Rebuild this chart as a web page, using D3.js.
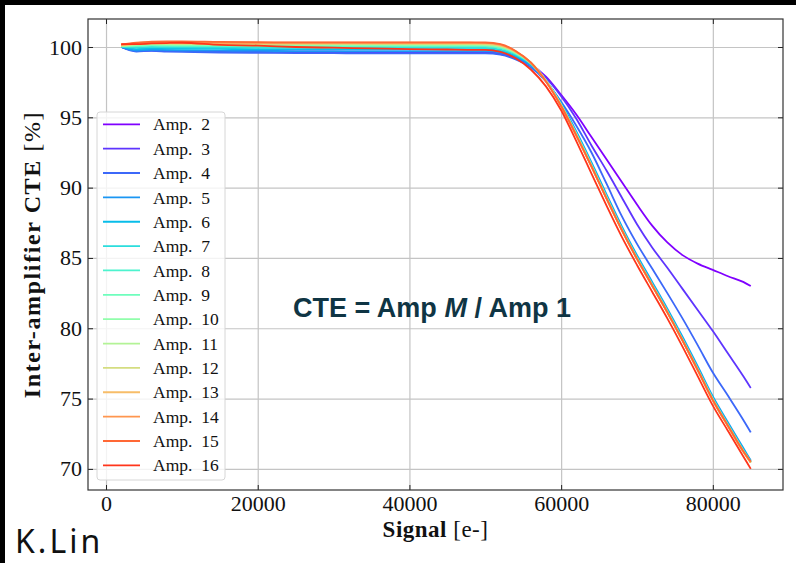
<!DOCTYPE html>
<html>
<head>
<meta charset="utf-8">
<script src="https://cdn.jsdelivr.net/npm/d3@7"></script>
<style>
  body { margin: 0; background: #fff; }
  svg { display: block; }
  .tick text { font-family: "Liberation Serif", serif; font-size: 22px; fill: #111; }
</style>
</head>
<body>
<svg id="chart" width="796" height="563"></svg>
<script>
// signal points (e-) shared by every amplifier
var signal = [2000, 4000, 6000, 8000, 10000, 15000, 20000, 25000, 30000, 35000, 40000, 45000, 48000, 50000,
  52000, 54000, 56000, 58000, 60000, 62000, 64000, 66000, 68000, 70000, 72000, 74000, 76000, 78000, 80000, 82000, 84000, 85000]

var ampNames = ["Amp. 2", "Amp. 3", "Amp. 4", "Amp. 5", "Amp. 6", "Amp. 7", "Amp. 8", "Amp. 9",
  "Amp. 10", "Amp. 11", "Amp. 12", "Amp. 13", "Amp. 14", "Amp. 15", "Amp. 16"]

// rainbow colours, one per amp
var ampColors = ["#8000ff", "#5e35fe", "#3c68f9", "#1a96f3", "#08bde9", "#2bdddd", "#4df3ce", "#6efebd",
  "#91feab", "#b3f396", "#d4dd80", "#f7bd68", "#ff964f", "#ff6835", "#ff351b"]

// CTE values [%]
var amp2 = [100.0, 99.75, 99.78, 99.75, 99.72, 99.7, 99.68, 99.67, 99.66, 99.65, 99.65, 99.65, 99.65, 99.64, 99.55, 99.25, 98.75, 97.9, 96.6, 95.2, 93.6, 92.0, 90.4, 88.8, 87.3, 86.1, 85.2, 84.6, 84.15, 83.7, 83.3, 83.0]
var amp3 = [100.0, 99.72, 99.75, 99.72, 99.7, 99.66, 99.63, 99.62, 99.61, 99.6, 99.6, 99.6, 99.6, 99.6, 99.5, 99.2, 98.7, 97.8, 96.5, 94.9, 93.0, 91.2, 89.3, 87.4, 85.75, 84.3, 82.8, 81.3, 79.8, 78.2, 76.6, 75.75]
var amp4 = [100.0, 99.68, 99.72, 99.68, 99.65, 99.6, 99.58, 99.57, 99.56, 99.55, 99.55, 99.55, 99.55, 99.55, 99.45, 99.12, 98.55, 97.55, 96.1, 94.4, 92.5, 90.26, 87.97, 86.0, 84.25, 82.5, 80.7, 78.8, 76.85, 75.2, 73.5, 72.6]
var amp5 = [100.0, 99.75, 99.8, 99.78, 99.76, 99.74, 99.72, 99.71, 99.7, 99.7, 99.7, 99.7, 99.7, 99.7, 99.6, 99.3, 98.7, 97.6, 96.0, 94.0, 91.8, 89.5, 87.25, 85.2, 83.3, 81.4, 79.4, 77.3, 75.15, 73.3, 71.5, 70.6]
var amp6 = [100.02, 99.85, 99.9, 99.88, 99.87, 99.86, 99.85, 99.85, 99.85, 99.85, 99.85, 99.85, 99.85, 99.84, 99.72, 99.38, 98.75, 97.6, 95.95, 93.9, 91.7, 89.4, 87.15, 85.1, 83.2, 81.3, 79.3, 77.2, 75.05, 73.2, 71.4, 70.55]
var amp7 = [100.03, 99.95, 100.0, 99.98, 99.97, 99.96, 99.95, 99.95, 99.95, 99.95, 99.95, 99.95, 99.95, 99.94, 99.82, 99.45, 98.8, 97.6, 95.9, 93.85, 91.65, 89.35, 87.1, 85.05, 83.15, 81.25, 79.25, 77.15, 75.0, 73.15, 71.35, 70.5]
var amp8 = [100.05, 100.05, 100.1, 100.08, 100.07, 100.06, 100.05, 100.05, 100.05, 100.05, 100.05, 100.05, 100.05, 100.04, 99.92, 99.52, 98.85, 97.62, 95.9, 93.82, 91.6, 89.3, 87.05, 85.0, 83.1, 81.2, 79.2, 77.1, 74.97, 73.12, 71.32, 70.48]
var amp9 = [100.05, 100.1, 100.15, 100.13, 100.12, 100.11, 100.1, 100.1, 100.1, 100.1, 100.1, 100.1, 100.1, 100.09, 99.97, 99.56, 98.86, 97.62, 95.88, 93.8, 91.58, 89.28, 87.03, 84.98, 83.08, 81.18, 79.18, 77.08, 74.95, 73.1, 71.3, 70.47]
var amp10 = [100.06, 100.14, 100.19, 100.18, 100.17, 100.16, 100.15, 100.15, 100.15, 100.15, 100.15, 100.15, 100.15, 100.14, 100.02, 99.6, 98.88, 97.62, 95.87, 93.78, 91.56, 89.26, 87.02, 84.97, 83.07, 81.17, 79.17, 77.07, 74.93, 73.08, 71.28, 70.46]
var amp11 = [100.08, 100.18, 100.23, 100.22, 100.21, 100.2, 100.2, 100.2, 100.2, 100.2, 100.2, 100.2, 100.2, 100.19, 100.06, 99.63, 98.88, 97.6, 95.84, 93.75, 91.53, 89.23, 87.0, 84.95, 83.05, 81.15, 79.15, 77.05, 74.9, 73.06, 71.26, 70.45]
var amp12 = [100.1, 100.2, 100.25, 100.24, 100.23, 100.22, 100.22, 100.22, 100.22, 100.22, 100.22, 100.22, 100.22, 100.21, 100.08, 99.65, 98.88, 97.58, 95.82, 93.73, 91.51, 89.21, 86.98, 84.93, 83.03, 81.13, 79.13, 77.03, 74.88, 73.04, 71.24, 70.45]
var amp13 = [100.12, 100.24, 100.3, 100.3, 100.29, 100.27, 100.26, 100.26, 100.26, 100.26, 100.26, 100.26, 100.26, 100.25, 100.12, 99.67, 98.88, 97.56, 95.8, 93.7, 91.5, 89.2, 86.97, 84.92, 83.02, 81.12, 79.12, 77.02, 74.87, 73.03, 71.23, 70.46]
var amp14 = [100.15, 100.28, 100.35, 100.36, 100.35, 100.32, 100.3, 100.3, 100.3, 100.3, 100.3, 100.3, 100.3, 100.29, 100.16, 99.7, 98.88, 97.55, 95.8, 93.7, 91.5, 89.2, 86.98, 84.93, 83.03, 81.13, 79.13, 77.03, 74.88, 73.05, 71.25, 70.48]
var amp15 = [100.18, 100.3, 100.38, 100.4, 100.4, 100.36, 100.34, 100.33, 100.33, 100.33, 100.33, 100.33, 100.33, 100.32, 100.2, 99.72, 98.9, 97.55, 95.8, 93.72, 91.52, 89.22, 87.0, 84.95, 83.05, 81.15, 79.15, 77.05, 74.9, 73.07, 71.28, 70.52]
var amp16 = [100.2, 100.2, 100.25, 100.28, 100.3, 100.15, 100.1, 100.0, 99.95, 99.9, 99.85, 99.82, 99.8, 99.8, 99.65, 99.2, 98.4, 97.2, 95.5, 93.3, 91.0, 88.7, 86.5, 84.5, 82.6, 80.7, 78.7, 76.6, 74.5, 72.7, 70.9, 70.0]

var ampValues = [amp2, amp3, amp4, amp5, amp6, amp7, amp8, amp9, amp10, amp11, amp12, amp13, amp14, amp15, amp16]

var xTicks = [0, 20000, 40000, 60000, 80000]
var yTicks = [70, 75, 80, 85, 90, 95, 100]

var svg = d3.select("#chart")

// white page with the black strips of the slide
svg.append("rect").attr("width", 796).attr("height", 563).attr("fill", "#fff")
svg.append("rect").attr("width", 796).attr("height", 5).attr("fill", "#000")
svg.append("rect").attr("width", 5).attr("height", 563).attr("fill", "#000")

var plotL = 88, plotT = 19, plotR = 783, plotB = 490
var w = plotR - plotL, h = plotB - plotT

var x = d3.scaleLinear().domain([-2375, 89250]).range([0, w])
var y = d3.scaleLinear().domain([68.5, 101.99]).range([h, 0])

var g = svg.append("g").attr("transform", "translate(" + plotL + "," + plotT + ")")

// grid
g.append("g")
  .attr("transform", "translate(0," + h + ")")
  .call(d3.axisBottom(x).tickValues(xTicks).tickSize(-h).tickFormat(""))
  .call(function(s) {
    s.select(".domain").remove()
    s.selectAll("line").attr("stroke", "#c4c4c4").attr("stroke-width", 1.2)
  })

g.append("g")
  .call(d3.axisLeft(y).tickValues(yTicks).tickSize(-w).tickFormat(""))
  .call(function(s) {
    s.select(".domain").remove()
    s.selectAll("line").attr("stroke", "#c4c4c4").attr("stroke-width", 1.2)
  })

// lines
var line = d3.line()
  .x(function(d) { return x(d[0]) })
  .y(function(d) { return y(d[1]) })
  .curve(d3.curveMonotoneX)

ampValues.forEach(function(vals, i) {
  g.append("path")
    .datum(signal.map(function(s, j) { return [s, vals[j]] }))
    .attr("fill", "none")
    .attr("stroke", ampColors[i])
    .attr("stroke-width", 1.8)
    .attr("stroke-linejoin", "round")
    .attr("d", line)
})

// axes, ticks pointing inward on all four sides
function styleAxis(s) {
  s.select(".domain").remove()
  s.selectAll(".tick line").attr("stroke", "#222").attr("stroke-width", 1)
}

g.append("g")
  .attr("transform", "translate(0," + h + ")")
  .call(d3.axisBottom(x).tickValues(xTicks).tickSize(-5).tickPadding(5).tickFormat(d3.format("d")))
  .call(styleAxis)

g.append("g")
  .call(d3.axisLeft(y).tickValues(yTicks).tickSize(-5).tickPadding(6).tickFormat(d3.format("d")))
  .call(styleAxis)

g.append("g")
  .call(d3.axisTop(x).tickValues(xTicks).tickSize(-5).tickFormat(""))
  .call(styleAxis)

g.append("g")
  .attr("transform", "translate(" + w + ",0)")
  .call(d3.axisRight(y).tickValues(yTicks).tickSize(-5).tickFormat(""))
  .call(styleAxis)

g.append("rect")
  .attr("width", w).attr("height", h)
  .attr("fill", "none").attr("stroke", "#333").attr("stroke-width", 1.2)

// legend
var legend = svg.append("g").attr("transform", "translate(97,112)")
legend.append("rect")
  .attr("width", 128).attr("height", 368).attr("rx", 3)
  .attr("fill", "#fff").attr("fill-opacity", 0.8)
  .attr("stroke", "#d6d6d6").attr("stroke-width", 1)

var item = legend.selectAll(".item")
  .data(ampNames)
  .enter().append("g")
  .attr("class", "item")
  .attr("transform", function(d, i) { return "translate(0," + (12.3 + i * 24.36) + ")" })

item.append("line")
  .attr("x1", 6).attr("x2", 43)
  .attr("stroke", function(d, i) { return ampColors[i] })
  .attr("stroke-width", 1.8)

item.append("text")
  .attr("x", 56).attr("dy", "0.35em")
  .style("font-family", "Liberation Serif, serif")
  .style("font-size", "17.5px")
  .attr("fill", "#111")
  .style("white-space", "pre")
  .text(function(d) { return d.replace(" ", "  ") })

// axis labels
var xl = svg.append("text")
  .attr("x", plotL + w / 2).attr("y", 537)
  .attr("text-anchor", "middle")
  .style("font-family", "Liberation Serif, serif")
  .style("font-size", "23px")
  .style("letter-spacing", "0.5px")
  .attr("fill", "#111")
xl.append("tspan").attr("font-weight", "bold").text("Signal")
xl.append("tspan").text(" [e-]")

var yl = svg.append("text")
  .attr("transform", "translate(40," + (plotT + h / 2) + ") rotate(-90)")
  .attr("text-anchor", "middle")
  .style("font-family", "Liberation Serif, serif")
  .style("font-size", "24px")
  .style("letter-spacing", "1.6px")
  .attr("fill", "#111")
yl.append("tspan").attr("font-weight", "bold").text("Inter-amplifier CTE")
yl.append("tspan").text(" [%]")

// annotation
var note = svg.append("text")
  .attr("x", 432).attr("y", 317)
  .attr("text-anchor", "middle")
  .style("font-family", "Liberation Sans, Arial, sans-serif")
  .style("font-size", "27px")
  .attr("font-weight", "bold")
  .attr("fill", "#0f3544")
note.append("tspan").text("CTE = Amp ")
note.append("tspan").attr("font-style", "italic").text("M")
note.append("tspan").text(" / Amp 1")

// author
svg.append("text")
  .attr("x", 15).attr("y", 553)
  .style("font-family", "Noto Sans, sans-serif")
  .style("font-size", "32px")
  .style("letter-spacing", "3px")
  .attr("fill", "#111")
  .text("K.Lin")
</script>
</body>
</html>
